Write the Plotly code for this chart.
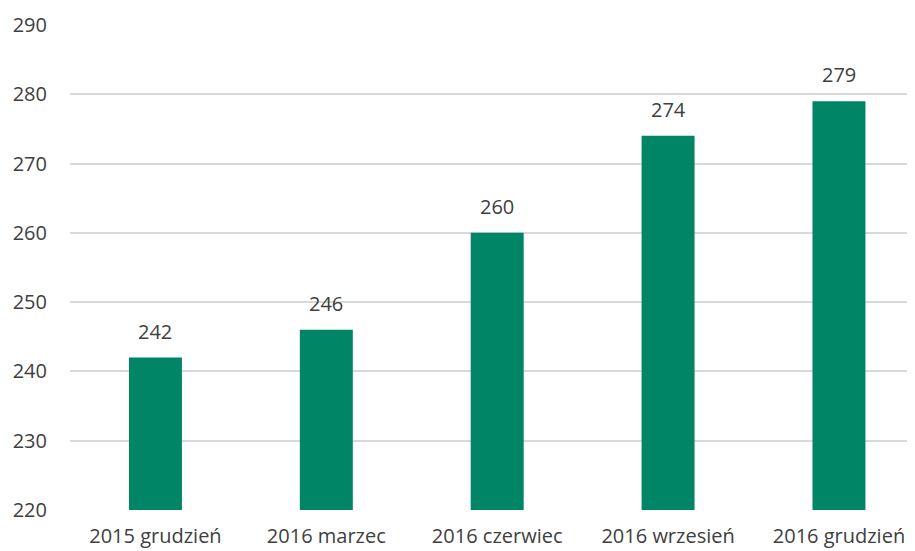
import plotly.graph_objects as go

categories = ["2015 grudzień", "2016 marzec", "2016 czerwiec", "2016 wrzesień", "2016 grudzień"]
values = [242, 246, 260, 274, 279]
y_ticks = [220, 230, 240, 250, 260, 270, 280, 290]
y_base = 220

FONT = "Open Sans"
TXT = "#404040"

fig = go.Figure()
fig.add_trace(go.Bar(
    x=list(range(len(categories))),
    y=[v - y_base for v in values],
    base=y_base,
    width=0.31,
    marker=dict(color="#008566", line=dict(width=0)),
))

for i, v in enumerate(values):
    fig.add_annotation(x=i, y=v, text=str(v), showarrow=False,
                       yanchor="bottom", yshift=11,
                       font=dict(family=FONT, size=20, color=TXT))

fig.update_layout(
    width=907, height=543,
    margin=dict(l=62, r=0, t=17, b=41),
    paper_bgcolor="white", plot_bgcolor="white",
    showlegend=False,
    font=dict(family=FONT, size=20, color=TXT),
    xaxis=dict(
        tickmode="array", tickvals=list(range(len(categories))), ticktext=categories,
        range=[-0.5, 4.445], showgrid=False, zeroline=False, showline=False,
        ticks="", ticklabelstandoff=12, automargin=False,
        tickfont=dict(family=FONT, size=20, color=TXT),
    ),
    yaxis=dict(
        range=[220, 290], tickmode="array", tickvals=y_ticks,
        showgrid=True, gridcolor="#d9d9d9", gridwidth=1.5,
        zeroline=False, showline=False, ticks="", ticklabelstandoff=22,
        automargin=False,
        tickfont=dict(family=FONT, size=20, color=TXT),
    ),
)

fig.write_html("out.html")
